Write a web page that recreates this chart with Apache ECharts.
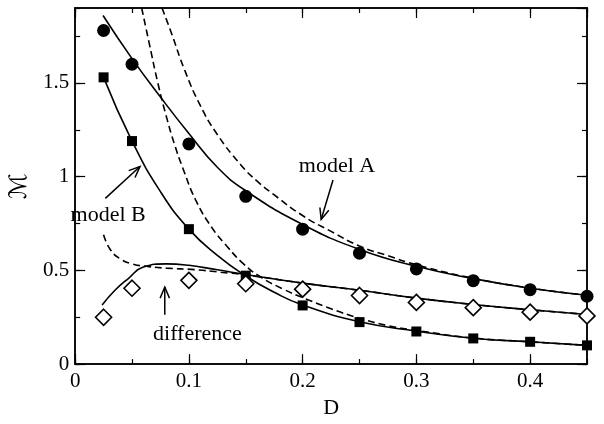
<!DOCTYPE html>
<html>
<head>
<meta charset="utf-8">
<script src="https://cdn.jsdelivr.net/npm/echarts@6/dist/echarts.min.js"></script>
<style>
  html, body { margin: 0; padding: 0; background: #fff; }
  #main { width: 604px; height: 424px; }
</style>
</head>
<body>
<div id="main"></div>
<script>
// sampled D values of the simulation points
const dPoints = [0.025, 0.05, 0.1, 0.15, 0.2, 0.25, 0.3, 0.35, 0.4, 0.45];
const circleA = [1.78, 1.60, 1.175, 0.895, 0.72, 0.592, 0.508, 0.445, 0.397, 0.362];
const squareB = [1.53, 1.19, 0.72, 0.472, 0.313, 0.224, 0.174, 0.137, 0.119, 0.10];
const diamondDiff = [0.25, 0.405, 0.447, 0.429, 0.40, 0.366, 0.329, 0.301, 0.277, 0.257];

// model curves [D, M]
const solidA = [[0.0245, 1.86], [0.05, 1.63], [0.075, 1.425], [0.1, 1.23], [0.125, 1.05], [0.15, 0.925],
  [0.2, 0.745], [0.25, 0.612], [0.3, 0.522], [0.35, 0.456], [0.4, 0.405], [0.45, 0.367]];
const dashedA = [[0.0764, 1.9], [0.085, 1.76], [0.0962, 1.57], [0.11, 1.38], [0.125, 1.225], [0.1455, 1.064],
  [0.16, 0.976], [0.1745, 0.905], [0.2006, 0.79], [0.225, 0.708], [0.25, 0.63], [0.275, 0.578],
  [0.3, 0.53], [0.35, 0.458], [0.4, 0.406], [0.45, 0.367]];
const solidB = [[0.025, 1.53], [0.05, 1.19], [0.075, 0.92], [0.1, 0.72], [0.125, 0.58], [0.15, 0.47],
  [0.175, 0.383], [0.2, 0.315], [0.25, 0.226], [0.3, 0.176], [0.35, 0.138], [0.4, 0.119], [0.45, 0.10]];
const dashedB = [[0.0585, 1.9], [0.065, 1.715], [0.0727, 1.5], [0.08, 1.325], [0.0875, 1.17], [0.095, 1.04],
  [0.106, 0.875], [0.12, 0.73], [0.134, 0.625], [0.148, 0.535], [0.163, 0.465], [0.183, 0.4],
  [0.2, 0.355], [0.225, 0.295], [0.25, 0.245], [0.275, 0.205], [0.3, 0.18], [0.35, 0.139],
  [0.4, 0.119], [0.45, 0.10]];
const solidDiff = [[0.0237, 0.315], [0.035, 0.394], [0.047, 0.458], [0.06, 0.518],
  [0.08, 0.535], [0.1, 0.527], [0.125, 0.503], [0.15, 0.478], [0.2, 0.432], [0.25, 0.394],
  [0.3, 0.352], [0.35, 0.318], [0.4, 0.29], [0.45, 0.265]];
const dashedDiff = [[0.025, 0.69], [0.031, 0.61], [0.0396, 0.562], [0.05, 0.535], [0.065, 0.52],
  [0.08, 0.512], [0.105, 0.504], [0.128, 0.49], [0.15, 0.476], [0.2, 0.432], [0.25, 0.394],
  [0.3, 0.352], [0.35, 0.318], [0.4, 0.29], [0.45, 0.265]];

// annotations in data coordinates
const labels = [
  { text: 'model A', at: [0.2302, 1.056] },
  { text: 'model B', at: [0.029, 0.793] },
  { text: 'difference', at: [0.1075, 0.158] }
];
const arrows = [
  { from: [0.2267, 0.982], to: [0.2163, 0.772] },
  { from: [0.0265, 0.884], to: [0.057, 1.054] },
  { from: [0.0788, 0.263], to: [0.0788, 0.411] }
];

const FONT = '"Liberation Serif", "DejaVu Serif", serif';
const chart = echarts.init(document.getElementById('main'));

function xAx(pos, interval, len, labels) {
  return {
    type: 'value', position: pos, min: 0, max: 0.45, interval: interval,
    axisLine: { show: true, onZero: false, lineStyle: { color: '#000', width: 1.5 } },
    axisTick: { show: true, inside: true, length: len, lineStyle: { color: '#000', width: 1.2 } },
    axisLabel: labels ? { show: true, showMaxLabel: false, color: '#000', fontFamily: FONT, fontSize: 21, margin: 7 } : { show: false },
    splitLine: { show: false },
    name: labels ? 'D' : '', nameLocation: 'middle', nameGap: 31,
    nameTextStyle: { color: '#000', fontFamily: FONT, fontSize: 22 }
  };
}
function yAx(pos, interval, len, labels) {
  return {
    type: 'value', position: pos, min: 0, max: 1.9, interval: interval,
    axisLine: { show: true, onZero: false, lineStyle: { color: '#000', width: 1.5 } },
    axisTick: { show: true, inside: true, length: len, lineStyle: { color: '#000', width: 1.2 } },
    axisLabel: labels ? { show: true, showMaxLabel: false, color: '#000', fontFamily: FONT, fontSize: 21, margin: 6 } : { show: false },
    splitLine: { show: false },
    name: labels ? '\u2133' : '', nameLocation: 'middle', nameGap: 37, nameRotate: 90,
    nameTextStyle: { color: '#000', fontFamily: '"DejaVu Serif", "DejaVu Sans", serif', fontSize: 24 }
  };
}

function curve(data, dashed) {
  return {
    type: 'line', data: data, smooth: 0.5, symbol: 'none', silent: true,
    lineStyle: { color: '#000', width: 1.6, type: dashed ? [7, 4] : 'solid' },
    clip: true, z: 2
  };
}
function points(values, symbol, size, fill) {
  return {
    type: 'scatter', data: dPoints.map((d, i) => [d, values[i]]), symbol: symbol, symbolSize: size,
    itemStyle: { color: fill, borderColor: '#000', borderWidth: fill === '#fff' ? 1.6 : 0, opacity: 1 },
    z: 5
  };
}

chart.setOption({
  animation: false,
  backgroundColor: '#fff',
  grid: { left: 69, right: 17, top: 8, bottom: 54, containLabel: false },
  xAxis: [xAx('bottom', 0.1, 10, true), xAx('bottom', 0.05, 5, false), xAx('top', 0.1, 10, false), xAx('top', 0.05, 5, false)],
  yAxis: [yAx('left', 0.5, 10, true), yAx('left', 0.25, 5, false), yAx('right', 0.5, 10, false), yAx('right', 0.25, 5, false)],
  series: [
    curve(solidA, false), curve(dashedA, true),
    curve(solidB, false), curve(dashedB, true),
    curve(solidDiff, false), curve(dashedDiff, true),
    points(circleA, 'circle', 13, '#000'),
    points(squareB, 'rect', 10, '#000'),
    points(diamondDiff, 'diamond', 16, '#fff')
  ]
});

// annotations placed through the axes
const px = (p) => chart.convertToPixel({ gridIndex: 0 }, p);
const graphics = [];
labels.forEach((l) => {
  const p = px(l.at);
  graphics.push({
    type: 'text', x: p[0], y: p[1], z: 10,
    style: { text: l.text, fill: '#000', font: '22px ' + FONT, textAlign: 'center', textVerticalAlign: 'middle' }
  });
});
arrows.forEach((a) => {
  const s = px(a.from), e = px(a.to);
  const ang = Math.atan2(e[1] - s[1], e[0] - s[0]);
  const head = 12, spread = 0.4;
  const l1 = [e[0] - head * Math.cos(ang - spread), e[1] - head * Math.sin(ang - spread)];
  const l2 = [e[0] - head * Math.cos(ang + spread), e[1] - head * Math.sin(ang + spread)];
  const ls = { stroke: '#000', lineWidth: 1.5, fill: null };
  graphics.push({ type: 'polyline', z: 10, shape: { points: [s, e] }, style: ls });
  graphics.push({ type: 'polyline', z: 10, shape: { points: [l1, e, l2] }, style: ls });
});
chart.setOption({ graphic: graphics });
</script>
</body>
</html>
